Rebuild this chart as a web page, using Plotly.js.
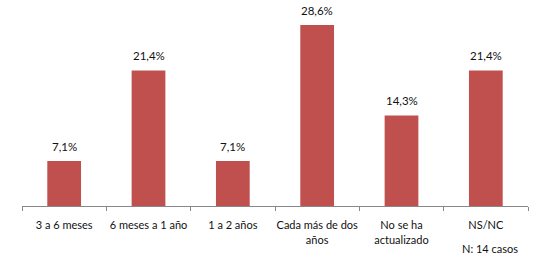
<!DOCTYPE html>
<html>
<head>
<meta charset="utf-8">
<script src="https://cdn.plot.ly/plotly-3.0.1.min.js"></script>
<style>html,body{margin:0;padding:0;background:#fff;}#chart{width:538px;height:263px;}</style>
</head>
<body>
<div id="chart"></div>
<script>
var categories = ["3 a 6 meses", "6 meses a 1 año", "1 a 2 años", "Cada más de dos<br>años", "No se ha<br>actualizado", "NS/NC"];
var values = [7.1, 21.4, 7.1, 28.6, 14.3, 21.4];
var labels = ["7,1%", "21,4%", "7,1%", "28,6%", "14,3%", "21,4%"];
var note = "N: 14 casos";

var FONT = "Lato, 'Open Sans', sans-serif";

var trace = {
  type: "bar",
  x: categories,
  y: values,
  marker: {color: "#C0504D"},
  width: 0.4,
  hoverinfo: "none"
};

var annotations = categories.map(function (c, i) {
  return {
    x: c, y: values[i], xref: "x", yref: "y", text: labels[i],
    showarrow: false, xanchor: "center", yanchor: "bottom", yshift: 6,
    font: {family: FONT, size: 11.5, color: "#111"}
  };
});
annotations.push({
  text: note, xref: "paper", yref: "paper", x: 0.925, y: 0, yshift: -42,
  xanchor: "center", yanchor: "middle", showarrow: false,
  font: {family: FONT, size: 11, color: "#111"}
});

var layout = {
  width: 538, height: 263,
  margin: {l: 22, r: 10, t: 4, b: 57},
  paper_bgcolor: "#fff", plot_bgcolor: "#fff",
  showlegend: false,
  xaxis: {
    type: "category",
    showline: true, linecolor: "#888", linewidth: 1,
    ticks: "outside", ticklen: 4, tickcolor: "#888", tickson: "boundaries",
    tickangle: 0, ticklabelstandoff: 9,
    tickfont: {family: FONT, size: 11, color: "#111"},
    showgrid: false, zeroline: false
  },
  yaxis: {
    range: [0, 31.9], visible: false, showgrid: false, zeroline: false
  },
  annotations: annotations
};

Plotly.newPlot("chart", [trace], layout, {displayModeBar: false, staticPlot: true});
</script>
</body>
</html>
